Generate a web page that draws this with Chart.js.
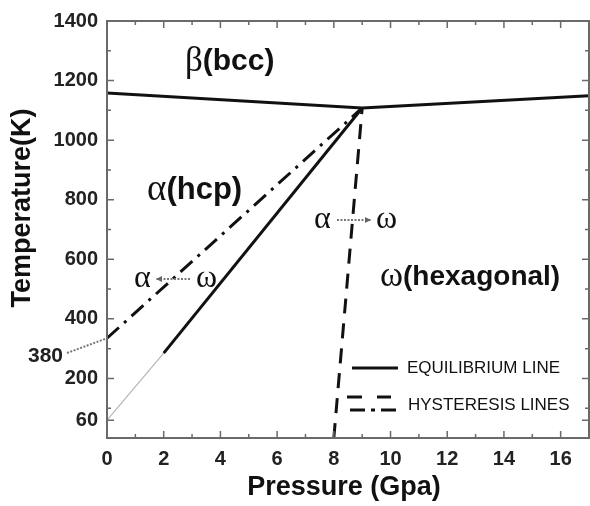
<!DOCTYPE html>
<html>
<head>
<meta charset="utf-8">
<script src="https://cdn.jsdelivr.net/npm/chart.js@4.4.1/dist/chart.umd.min.js"></script>
<style>
  body { margin: 0; background: #fff; }
  #grafico { display: block; }
</style>
</head>
<body>
<canvas id="grafico" width="590" height="506"></canvas>
<script>
// linhas do diagrama de fases (pressao em GPa, temperatura em K)
var pressBeta = [0, 9, 17]
var tempBeta = [1158, 1108, 1149]
var pressEquil = [2, 9]
var tempEquil = [285, 1108]
var pressExtrap = [0, 2]
var tempExtrap = [60, 285]
var pressIda = [8, 9]
var tempIda = [0, 1108]
var pressVolta = [0, 9]
var tempVolta = [335, 1108]

var xTicks = [0, 2, 4, 6, 8, 10, 12, 14, 16]
var yTicks = [60, 200, 400, 600, 800, 1000, 1200, 1400]
var xMenores = [1, 3, 5, 7, 9, 11, 13, 15]
var yMenores = [100, 300, 500, 700, 900, 1100, 1300]

var corLinha = '#111'
var corEixo = '#6a6a6a'
var fonteSans = '"Liberation Sans", Arial, sans-serif'
var fonteSerif = '"Liberation Serif", "Times New Roman", serif'

function pontos(xs, ys) {
  var lista = []
  for (var i = 0; i < xs.length; i++) {
    lista.push({ x: xs[i], y: ys[i] })
  }
  return lista
}

function texto(ctx, partes, x, y) {
  // partes: [texto, fonte]
  ctx.textBaseline = 'middle'
  ctx.textAlign = 'left'
  for (var i = 0; i < partes.length; i++) {
    ctx.font = partes[i][1]
    ctx.fillText(partes[i][0], x, y)
    x += ctx.measureText(partes[i][0]).width
  }
}

function seta(ctx, x1, x2, y) {
  ctx.save()
  ctx.strokeStyle = '#777'
  ctx.fillStyle = '#666'
  ctx.lineWidth = 2
  ctx.setLineDash([2, 1.5])
  ctx.beginPath()
  ctx.moveTo(x1, y)
  ctx.lineTo(x2, y)
  ctx.stroke()
  ctx.setLineDash([])
  var d = x2 > x1 ? -1 : 1
  ctx.beginPath()
  ctx.moveTo(x2, y)
  ctx.lineTo(x2 + d * 6, y - 3)
  ctx.lineTo(x2 + d * 6, y + 3)
  ctx.closePath()
  ctx.fill()
  ctx.restore()
}

var moldura = {
  id: 'moldura',
  afterDatasetsDraw: function (chart) {
    var ctx = chart.ctx
    var a = chart.chartArea
    var sx = chart.scales.x
    var sy = chart.scales.y
    ctx.save()
    ctx.strokeStyle = corEixo
    ctx.lineWidth = 2
    ctx.strokeRect(a.left, a.top, a.right - a.left, a.bottom - a.top)

    ctx.lineWidth = 1.5
    ctx.beginPath()
    var marcas = [[xTicks, 7], [xMenores, 4]]
    marcas.forEach(function (m) {
      m[0].forEach(function (v) {
        var px = sx.getPixelForValue(v)
        ctx.moveTo(px, a.bottom); ctx.lineTo(px, a.bottom - m[1])
        ctx.moveTo(px, a.top); ctx.lineTo(px, a.top + m[1])
      })
    })
    var marcasY = [[yTicks, 7], [yMenores, 4]]
    marcasY.forEach(function (m) {
      m[0].forEach(function (v) {
        var py = sy.getPixelForValue(v)
        ctx.moveTo(a.left, py); ctx.lineTo(a.left + m[1], py)
        ctx.moveTo(a.right, py); ctx.lineTo(a.right - m[1], py)
      })
    })
    ctx.stroke()

    // rotulos das fases
    ctx.fillStyle = corLinha
    var grego = '35px ' + fonteSerif
    texto(ctx, [['β', grego], ['(bcc)', 'bold 30px ' + fonteSans]], 185, 62)
    texto(ctx, [['α', '37px ' + fonteSerif], ['(hcp)', 'bold 31px ' + fonteSans]], 147, 190)
    texto(ctx, [['ω', grego], ['(hexagonal)', 'bold 28px ' + fonteSans]], 380, 277)

    var gregoP = '32px ' + fonteSerif
    texto(ctx, [['α', gregoP]], 314, 220)
    seta(ctx, 337, 371, 220)
    texto(ctx, [['ω', gregoP]], 376, 220)
    texto(ctx, [['α', gregoP]], 134, 279)
    seta(ctx, 190, 156, 279)
    texto(ctx, [['ω', gregoP]], 196, 279)

    // legenda
    ctx.strokeStyle = corLinha
    ctx.lineWidth = 3
    ctx.beginPath()
    ctx.moveTo(352, 368); ctx.lineTo(398, 368)
    ctx.moveTo(347, 397); ctx.lineTo(362, 397)
    ctx.moveTo(377, 397); ctx.lineTo(391, 397)
    ctx.moveTo(350, 410); ctx.lineTo(365, 410)
    ctx.moveTo(371, 410); ctx.lineTo(375, 410)
    ctx.moveTo(381, 410); ctx.lineTo(396, 410)
    ctx.stroke()
    texto(ctx, [['EQUILIBRIUM LINE', '17px ' + fonteSans]], 407, 368)
    texto(ctx, [['HYSTERESIS LINES', '17px ' + fonteSans]], 408, 405)

    // rotulo 380 com linha pontilhada
    ctx.strokeStyle = '#777'
    ctx.lineWidth = 2
    ctx.setLineDash([2, 1.5])
    ctx.beginPath()
    ctx.moveTo(67, 353)
    ctx.lineTo(sx.getPixelForValue(pressVolta[0]), sy.getPixelForValue(tempVolta[0]))
    ctx.stroke()
    ctx.setLineDash([])
    ctx.fillStyle = '#222'
    ctx.font = 'bold 21px ' + fonteSans
    ctx.textAlign = 'right'
    ctx.textBaseline = 'middle'
    ctx.fillText('380', 63, 356)

    // titulos dos eixos
    ctx.fillStyle = corLinha
    ctx.font = 'bold 27px ' + fonteSans
    ctx.textAlign = 'center'
    ctx.fillText('Pressure (Gpa)', 344, 488)
    ctx.translate(23, 208)
    ctx.rotate(-Math.PI / 2)
    ctx.fillText('Temperature(K)', 0, 0)
    ctx.restore()
  }
}

var ctx = document.getElementById('grafico')

var grafico = new Chart(ctx, {
  type: 'scatter',
  data: {
    datasets: [
      {
        label: 'extrapolada',
        data: pontos(pressExtrap, tempExtrap),
        showLine: true,
        borderColor: '#b5b5b5',
        borderWidth: 1.2,
        pointRadius: 0
      },
      {
        label: 'beta',
        data: pontos(pressBeta, tempBeta),
        showLine: true,
        borderColor: corLinha,
        borderWidth: 3,
        pointRadius: 0
      },
      {
        label: 'equilibrio',
        data: pontos(pressEquil, tempEquil),
        showLine: true,
        borderColor: corLinha,
        borderWidth: 3,
        pointRadius: 0
      },
      {
        label: 'histerese alfa-omega',
        data: pontos(pressIda, tempIda),
        showLine: true,
        borderColor: corLinha,
        borderWidth: 3,
        borderDash: [15, 10],
        pointRadius: 0
      },
      {
        label: 'histerese omega-alfa',
        data: pontos(pressVolta, tempVolta),
        showLine: true,
        borderColor: corLinha,
        borderWidth: 3,
        borderDash: [16, 7, 3, 7],
        pointRadius: 0
      }
    ]
  },
  options: {
    responsive: false,
    animation: false,
    layout: { padding: { top: 20, right: 1, left: 0, bottom: 0 } },
    plugins: {
      legend: { display: false },
      tooltip: { enabled: false }
    },
    scales: {
      x: {
        type: 'linear',
        min: 0,
        max: 17,
        afterBuildTicks: function (s) {
          s.ticks = xTicks.map(function (v) { return { value: v } })
        },
        afterFit: function (s) { s.height = 68 },
        grid: { display: false, drawTicks: false },
        border: { display: false },
        ticks: {
          color: '#222',
          padding: 9,
          maxRotation: 0,
          callback: function (v) { return String(v) },
          font: { family: fonteSans, size: 20, weight: 'bold' }
        }
      },
      y: {
        type: 'linear',
        min: 0,
        max: 1400,
        afterBuildTicks: function (s) {
          s.ticks = yTicks.map(function (v) { return { value: v } })
        },
        afterFit: function (s) { s.width = 107 },
        grid: { display: false, drawTicks: false },
        border: { display: false },
        ticks: {
          color: '#222',
          padding: 9,
          callback: function (v) { return String(v) },
          font: { family: fonteSans, size: 20, weight: 'bold' }
        }
      }
    }
  },
  plugins: [moldura]
});
</script>
</body>
</html>
